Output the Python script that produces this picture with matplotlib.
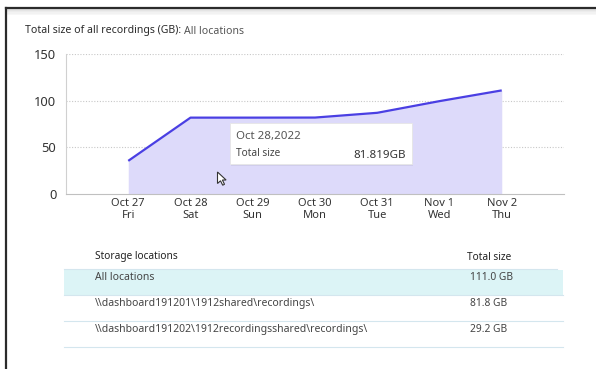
import matplotlib
matplotlib.use("Agg")
import matplotlib.pyplot as plt
from matplotlib.patches import Rectangle, Polygon

plt.rcParams['font.family'] = ['Noto Sans', 'DejaVu Sans']

# Daily cumulative recording size (GB)
dates = ["Oct 27", "Oct 28", "Oct 29", "Oct 30", "Oct 31", "Nov 1", "Nov 2"]
weekdays = ["Fri", "Sat", "Sun", "Mon", "Tue", "Wed", "Thu"]
total_gb = [35.5, 81.819, 81.819, 81.9, 87.0, 99.5, 111.0]
y_ticks = [0, 50, 100, 150]

# Storage locations table
locations = ["All locations",
             "\\\\dashboard191201\\1912shared\\recordings\\",
             "\\\\dashboard191202\\1912recordingsshared\\recordings\\"]
location_sizes = [111.0, 81.8, 29.2]

tooltip_index = 1
tooltip_date = "Oct 28,2022"

W, H = 596, 369
fig = plt.figure(figsize=(W / 100, H / 100), dpi=100)
fig.patch.set_facecolor("white")

def fx(px):
    return px / W

def fy(py):
    return 1 - py / H

# main area chart
ax = fig.add_axes([fx(66), fy(194), fx(564) - fx(66), fy(54) - fy(194)])
x = list(range(len(dates)))
ax.fill_between(x, total_gb, 0, color="#dddafa", linewidth=0, zorder=1)
ax.plot(x, total_gb, color="#4a3fe3", linewidth=1.6, zorder=3,
        solid_capstyle="butt")
ax.set_xlim(-1, len(dates))
ax.set_ylim(0, 150)
ax.set_yticks(y_ticks)
ax.set_xticks(x)
ax.set_xticklabels([f"{d}\n{w}" for d, w in zip(dates, weekdays)],
                   fontsize=8, color="#333333", linespacing=1.05)
ax.tick_params(axis="y", length=0, pad=7, labelsize=9.3, labelcolor="#333333")
ax.tick_params(axis="x", length=0, pad=3)
for v in y_ticks[1:]:
    ax.axhline(v, color="#c8c8c8", linewidth=0.8, linestyle=(0, (1, 1.5)), zorder=0)
for s in ["top", "right"]:
    ax.spines[s].set_visible(False)
ax.spines["left"].set_color("#d0d0d0")
ax.spines["bottom"].set_color("#c0c0c0")
ax.spines["left"].set_linewidth(0.8)
ax.spines["bottom"].set_linewidth(0.8)

# overlay in pixel coordinates for frame, title, tooltip and table
ov = fig.add_axes([0, 0, 1, 1])
ov.set_xlim(0, W)
ov.set_ylim(H, 0)
ov.axis("off")
ov.patch.set_alpha(0)

# window frame with soft top shadow
ov.plot([6, 6], [8, H], color="#2b2b2b", linewidth=1.6)
ov.plot([6, W], [8, 8], color="#2b2b2b", linewidth=1.6)
for i, c in enumerate(["#e4e4e4", "#ececec", "#f2f2f2", "#f7f7f7"]):
    ov.add_patch(Rectangle((7, 9 + i * 1.5), W - 7, 1.5, color=c, linewidth=0))

# title
t1 = ov.text(25, 31, "Total size of all recordings (GB):", fontsize=7.6,
             color="#2a2a2a", va="center", ha="left")
fig.canvas.draw()
bb = t1.get_window_extent()
ov.text(25 + bb.width + 3, 31, "All locations", fontsize=7.6,
        color="#555555", va="center", ha="left")

# tooltip
ov.add_patch(Rectangle((231, 124.5), 182, 41.5, facecolor="#000000",
                       alpha=0.06, linewidth=0, zorder=4))
ov.add_patch(Rectangle((230, 123), 182, 41, facecolor="white",
                       edgecolor="#e6e6e6", linewidth=0.6, zorder=5))
ov.text(236, 137, tooltip_date, fontsize=8.3, color="#555555",
        va="center", ha="left", zorder=6)
ov.text(236, 154, "Total size", fontsize=7.3, color="#444444",
        va="center", ha="left", zorder=6)
ov.text(406, 155, f"{total_gb[tooltip_index]:.3f}GB", fontsize=8.3,
        color="#333333", va="center", ha="right", zorder=6)

# mouse pointer
tip = (217.5, 172)
shape = [(0, 0), (0, 11.5), (3, 8.8), (5.2, 13.2), (7, 12.3), (4.9, 8), (8.6, 8)]
ov.add_patch(Polygon([(tip[0] + a, tip[1] + b) for a, b in shape], closed=True,
                     facecolor="white", edgecolor="#333333", linewidth=0.8,
                     zorder=7))

# storage table
col1_x, col2_x = 95, 467
ov.text(col1_x, 257, "Storage locations", fontsize=7.3, color="#222222",
        va="center", ha="left")
ov.text(col2_x, 257, "Total size", fontsize=7.3, color="#222222",
        va="center", ha="left")
ov.plot([64, 557], [269, 269], color="#d4e6ee", linewidth=0.8)
row_h = 26
row_top = 269
for i, (name, size) in enumerate(zip(locations, location_sizes)):
    top = row_top + i * row_h
    if i == 0:
        ov.add_patch(Rectangle((64, top + 0.5), 563 - 64, 25,
                               facecolor="#dcf4f6", linewidth=0))
    else:
        ov.plot([64, 563], [top, top], color="#d4e6ee", linewidth=0.8)
    ty = top + 8.5
    ov.text(col1_x, ty, name, fontsize=7.5, color="#444444",
            va="center", ha="left")
    ov.text(col2_x + 3, ty, f"{size:.1f} GB", fontsize=7.4, color="#444444",
            va="center", ha="left")
ov.plot([64, 563], [row_top + 3 * row_h, row_top + 3 * row_h],
        color="#d4e6ee", linewidth=0.8)

fig.savefig("out.png", dpi=100, facecolor="white")
